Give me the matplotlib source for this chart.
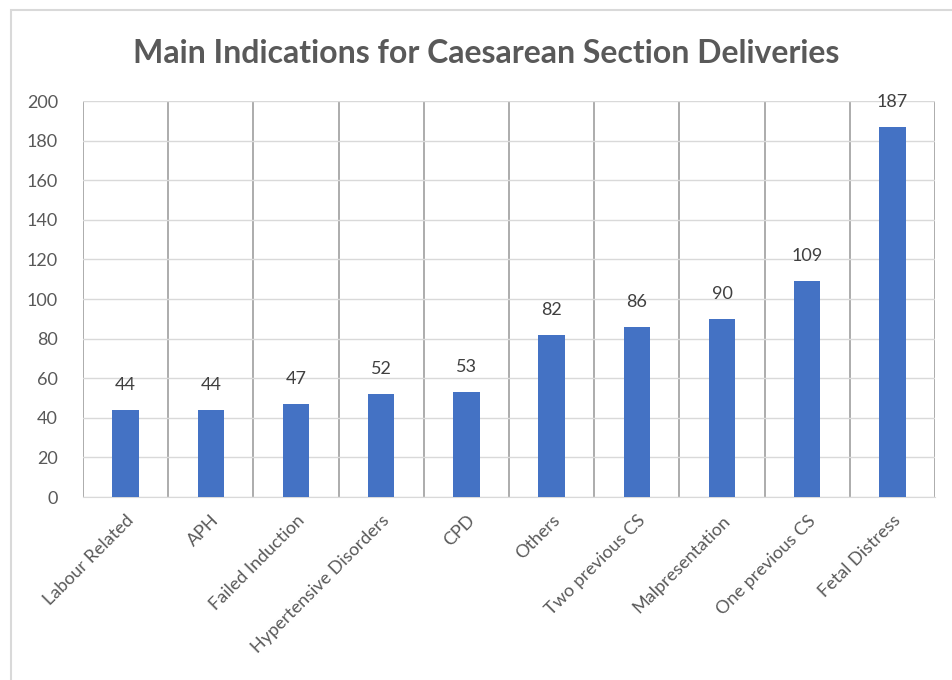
import matplotlib
matplotlib.use("Agg")
import matplotlib.pyplot as plt
from matplotlib.patches import Rectangle
import numpy as np

# Datos del grafico
indicaciones = ['Labour Related', 'APH', 'Failed Induction', 'Hypertensive Disorders', 'CPD',
                'Others', 'Two previous CS', 'Malpresentation', 'One previous CS', 'Fetal Distress']
casos = [44, 44, 47, 52, 53, 82, 86, 90, 109, 187]
ticks_y = [0, 20, 40, 60, 80, 100, 120, 140, 160, 180, 200]

plt.rcParams['font.family'] = ['Lato', 'DejaVu Sans']

fig = plt.figure(figsize=(9.52, 6.8), dpi=100)
ax = fig.add_axes([0.0872, 0.269, 0.8950, 0.5824])

x = np.arange(len(indicaciones))
ax.bar(x, casos, width=0.31, color='#4472C4', zorder=3)

ax.set_xlim(-0.5, len(indicaciones) - 0.5)
ax.set_ylim(0, 200)
ax.set_yticks(ticks_y)
ax.set_yticklabels([str(t) for t in ticks_y])
ax.grid(axis='y', color='#D9D9D9', linewidth=1, zorder=0)
for b in np.arange(-0.5, len(indicaciones), 1):
    ax.axvline(b, color='#A6A6A6', linewidth=1.3, zorder=1)

for s in ['top', 'right', 'left']:
    ax.spines[s].set_visible(False)
ax.spines['bottom'].set_color('#D9D9D9')
ax.tick_params(axis='both', length=0, colors='#595959', labelsize=13)
ax.tick_params(axis='y', pad=18)

ax.set_xticks(x)
ax.set_xticklabels(indicaciones, rotation=45, ha='right', rotation_mode='anchor', fontsize=13)
ax.tick_params(axis='x', pad=11)

for i, v in enumerate(casos):
    ax.annotate(str(v), xy=(i, v), xytext=(0, 18), textcoords='offset points',
                ha='center', va='center', fontsize=13, color='#404040')

fig.text(0.511, 0.922, 'Main Indications for Caesarean Section Deliveries',
         ha='center', va='center', fontsize=23, fontweight='bold', color='#595959')

# marco exterior del grafico
fig.patches.append(Rectangle((11/952, -0.1), 1.2, 1 - 10/680 + 0.1, transform=fig.transFigure,
                             fill=False, edgecolor='#D9D9D9', linewidth=1.5))

fig.savefig('out.png', dpi=100)
